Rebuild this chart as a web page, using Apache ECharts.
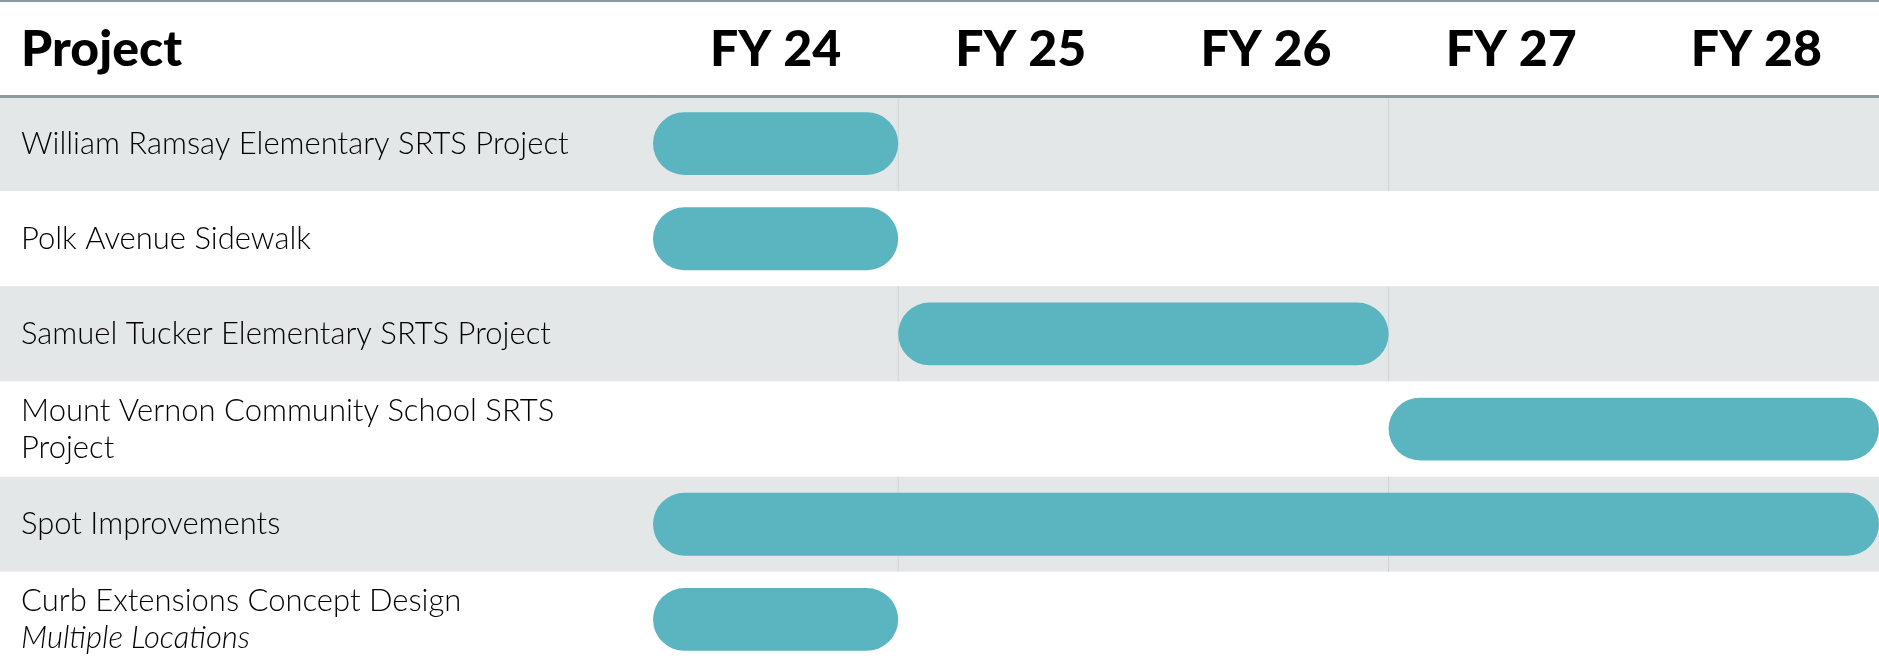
<!DOCTYPE html>
<html>
<head>
<meta charset="utf-8">
<script src="https://cdn.jsdelivr.net/npm/echarts@6/dist/echarts.min.js"></script>
<style>
html, body { margin: 0; padding: 0; background: #fff; }
#chart { width: 1879px; height: 667px; }
</style>
</head>
<body>
<div id="chart"></div>
<script>
// project rows and schedule (years counted from FY 24 = 0)
const projects = [
  'William Ramsay Elementary SRTS Project',
  'Polk Avenue Sidewalk',
  'Samuel Tucker Elementary SRTS Project',
  'Mount Vernon Community School SRTS Project',
  'Spot Improvements',
  'Curb Extensions Concept Design'
]
const notes = ['', '', '', '', '', 'Multiple Locations']
const years = ['FY 24', 'FY 25', 'FY 26', 'FY 27', 'FY 28']
const startYear = [0, 0, 1, 3, 0, 0]
const endYear = [1, 1, 3, 5, 5, 1]
// faint column rules shown in the shaded rows
const dividers = [1, 3]

const BAR = '#5ab5c1'
const BAND = '#e3e7e8'
const RULE = '#8b9a9c'
const FONT = 'Lato'

const chart = echarts.init(document.getElementById('chart'))

const barData = projects.map((p, i) => [i, startYear[i], endYear[i]])
const dividerData = []
projects.forEach((p, i) => {
  if (i % 2 === 0) dividers.forEach(d => dividerData.push([i, d]))
})

// break long names onto a second line
const wrap = (s, max) => {
  if (s.length <= max) return s
  const cut = s.lastIndexOf(' ', max)
  return s.slice(0, cut) + '\n' + s.slice(cut + 1)
}

// rounded bar for each project
const renderBar = (params, api) => {
  const row = api.value(0)
  const s = api.coord([api.value(1), row])
  const e = api.coord([api.value(2), row])
  const h = api.size([0, 1])[1] * 0.66
  return {
    type: 'rect',
    shape: { x: s[0], y: s[1] - h / 2, width: e[0] - s[0], height: h, r: h / 2 },
    style: { fill: BAR }
  }
}

// thin vertical rule inside a shaded row
const renderDivider = (params, api) => {
  const p = api.coord([api.value(1), api.value(0)])
  const h = api.size([0, 1])[1]
  return {
    type: 'line',
    shape: { x1: p[0], y1: p[1] - h / 2, x2: p[0], y2: p[1] + h / 2 },
    style: { stroke: '#cfd5d6', lineWidth: 1 }
  }
}

const option = {
  animation: false,
  textStyle: { fontFamily: FONT },
  title: {
    text: 'Project',
    left: 21,
    top: 22,
    padding: 0,
    textStyle: { fontFamily: FONT, fontSize: 50, fontWeight: 900, color: '#000', lineHeight: 56 }
  },
  graphic: [{
    type: 'rect',
    shape: { x: 0, y: 0, width: 1879, height: 2 },
    style: { fill: RULE }
  }],
  grid: [
    { left: 0, top: 96, width: 653, bottom: 0 },
    { left: 653, top: 96, right: 0, bottom: 0 }
  ],
  xAxis: [
    {
      gridIndex: 0, type: 'value', position: 'top', min: 0, max: 1, z: 5,
      axisLine: { show: true, lineStyle: { color: RULE, width: 3 } },
      axisTick: { show: false }, axisLabel: { show: false }, splitLine: { show: false }
    },
    { gridIndex: 1, type: 'value', min: 0, max: 5, show: false },
    {
      gridIndex: 1, type: 'category', position: 'top', data: years, z: 5,
      axisLine: { show: true, lineStyle: { color: RULE, width: 3 } },
      axisTick: { show: false },
      axisLabel: {
        margin: 46, verticalAlign: 'middle',
        fontFamily: FONT, fontSize: 50, fontWeight: 900, color: '#000'
      }
    }
  ],
  yAxis: [
    {
      gridIndex: 0, type: 'category', inverse: true, data: projects,
      axisLine: { show: false }, axisTick: { show: false },
      splitArea: { show: true, areaStyle: { color: [BAND, '#ffffff'] } },
      axisLabel: {
        inside: true, margin: 21, align: 'left',
        fontFamily: FONT, fontSize: 31, fontWeight: 300, color: '#000', lineHeight: 37,
        formatter: (v, i) => notes[i] ? wrap(v, 38) + '\n{i|' + notes[i] + '}' : wrap(v, 38),
        rich: { i: { fontFamily: FONT, fontSize: 31, fontWeight: 300, fontStyle: 'italic', color: '#000', lineHeight: 37 } }
      }
    },
    {
      gridIndex: 1, type: 'category', inverse: true, data: projects,
      axisLine: { show: false }, axisTick: { show: false }, axisLabel: { show: false },
      splitArea: { show: true, areaStyle: { color: [BAND, '#ffffff'] } }
    }
  ],
  series: [
    {
      type: 'custom', xAxisIndex: 1, yAxisIndex: 1, z: 2,
      data: dividerData, encode: { x: 1, y: 0 }, renderItem: renderDivider
    },
    {
      type: 'custom', xAxisIndex: 1, yAxisIndex: 1, z: 3,
      data: barData, encode: { x: [1, 2], y: 0 }, renderItem: renderBar
    }
  ]
}

chart.setOption(option)
window.addEventListener('resize', () => chart.resize())
</script>
</body>
</html>
